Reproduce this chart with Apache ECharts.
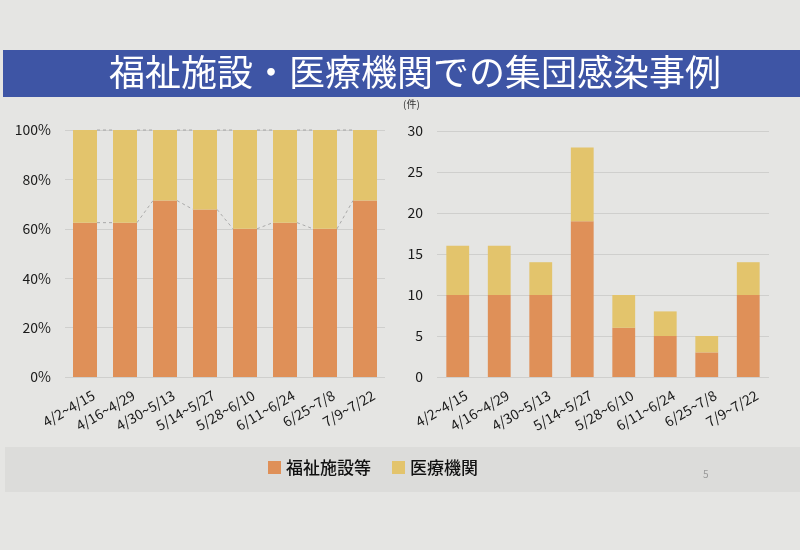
<!DOCTYPE html>
<html>
<head>
<meta charset="utf-8">
<script src="https://cdn.jsdelivr.net/npm/echarts@6/dist/echarts.min.js"></script>
<style>
html,body{margin:0;padding:0;background:#e5e5e3;}
#c{width:800px;height:550px;}
</style>
</head>
<body>
<div id="c"></div>
<script>
const titleText = '福祉施設・医療機関での集団感染事例';
const categories = ['4/2~4/15','4/16~4/29','4/30~5/13','5/14~5/27','5/28~6/10','6/11~6/24','6/25~7/8','7/9~7/22'];
const seriesNames = ['福祉施設等','医療機関'];
const welfare = [10,10,10,19,6,5,3,10];
const medical = [6,6,4,9,4,3,2,4];
const pctTicks = ['0%','20%','40%','60%','80%','100%'];
const unitLabel = '(件)';

const colorOrange = '#df9058';
const colorYellow = '#e3c46c';
const font = '"Noto Sans CJK JP", "Noto Sans", sans-serif';

// 100% stacked shares (as a chart would compute them)
const welfareShare = welfare.map((v,i)=> v/(v+medical[i])*100);
const medicalShare = medical.map((v,i)=> v/(v+welfare[i])*100);
const seriesLinesData = welfareShare.slice(0,-1).map((v,i)=>[i, v, welfareShare[i+1]]);

const chart = echarts.init(document.getElementById('c'));

const xLabel = {rotate:30, fontSize:14, color:'#1a1a1a', fontFamily:font, margin:22, interval:0, padding:[0,-10,0,0]};

chart.setOption({
  backgroundColor:'#e5e5e3',
  animation:false,
  graphic:[
    {type:'rect', shape:{x:3,y:50,width:797,height:47}, style:{fill:'#3e55a5'}, z:-1},
    {type:'text', left:109, top:54, style:{text:titleText, fill:'#fff', font:'normal 36px '+font}},
    {type:'rect', shape:{x:5,y:447,width:795,height:45}, style:{fill:'#dcdcda'}, z:-2},
    {type:'text', left:703, top:469, style:{text:'5', fill:'#999', font:'10px '+font}},
    {type:'text', left:403, top:99, style:{text:unitLabel, fill:'#333', font:'10px '+font}}
  ],
  legend:{
    data:seriesNames, left:263, top:454, itemWidth:13, itemHeight:13, itemGap:21, icon:'rect',
    textStyle:{fontSize:17, color:'#111', fontFamily:font, fontWeight:500}
  },
  grid:[
    {left:65, right:415, top:130, bottom:173},
    {left:437, right:31, top:131, bottom:173}
  ],
  xAxis:[
    {type:'category', gridIndex:0, data:categories, axisLine:{show:false}, axisTick:{show:false}, axisLabel:xLabel},
    {type:'category', gridIndex:1, data:categories, axisLine:{show:false}, axisTick:{show:false}, axisLabel:xLabel}
  ],
  yAxis:[
    {type:'value', gridIndex:0, min:0, max:100, interval:20,
     axisLabel:{fontSize:14, color:'#1a1a1a', fontFamily:font, margin:14, formatter:(v)=>pctTicks[v/20]},
     splitLine:{lineStyle:{color:'#cfcfcd'}}},
    {type:'value', gridIndex:1, min:0, max:30, interval:5,
     axisLabel:{fontSize:14, color:'#1a1a1a', fontFamily:font, margin:14},
     splitLine:{lineStyle:{color:'#cfcfcd'}}}
  ],
  series:[
    {name:seriesNames[0], type:'bar', xAxisIndex:0, yAxisIndex:0, stack:'p', data:welfareShare, barWidth:'60%', itemStyle:{color:colorOrange}},
    {name:seriesNames[1], type:'bar', xAxisIndex:0, yAxisIndex:0, stack:'p', data:medicalShare, barWidth:'60%', itemStyle:{color:colorYellow}},
    {name:'lines', type:'custom', xAxisIndex:0, yAxisIndex:0, data:seriesLinesData, silent:true, z:5,
     renderItem:function(params, api){
       const i = api.value(0);
       const half = api.size([1,0])[0]*0.3;
       const a = api.coord([i, api.value(1)]);
       const b = api.coord([i+1, api.value(2)]);
       const ta = api.coord([i, 100]);
       const tb = api.coord([i+1, 100]);
       const st = {stroke:'#9a9a9a', lineWidth:0.8, lineDash:[3,3]};
       return {type:'group', children:[
         {type:'line', shape:{x1:a[0]+half, y1:a[1], x2:b[0]-half, y2:b[1]}, style:st},
         {type:'line', shape:{x1:ta[0]+half, y1:ta[1], x2:tb[0]-half, y2:tb[1]}, style:st}
       ]};
     }},
    {name:seriesNames[0], type:'bar', xAxisIndex:1, yAxisIndex:1, stack:'c', data:welfare, barWidth:'55%', itemStyle:{color:colorOrange}},
    {name:seriesNames[1], type:'bar', xAxisIndex:1, yAxisIndex:1, stack:'c', data:medical, barWidth:'55%', itemStyle:{color:colorYellow}}
  ]
});
</script>
</body>
</html>
